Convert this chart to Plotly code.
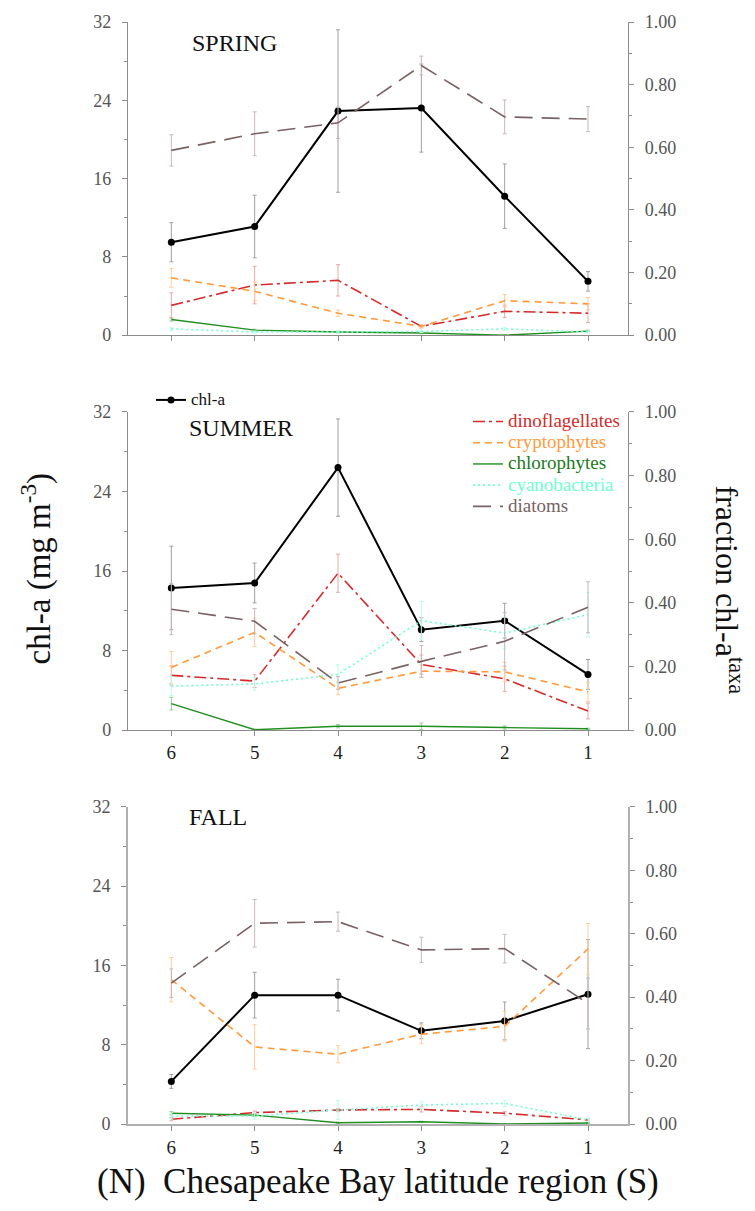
import plotly.graph_objects as go
from plotly.subplots import make_subplots

regions = [6, 5, 4, 3, 2, 1]
seasons = ["SPRING", "SUMMER", "FALL"]

# chl-a (mg m-3), left axis
spring_chl = [9.5, 11.1, 22.9, 23.2, 14.2, 5.5]
spring_chl_err = [2.0, 3.2, 8.3, 4.5, 3.3, 1.0]
summer_chl = [14.3, 14.8, 26.4, 10.1, 11.0, 5.6]
summer_chl_err = [4.2, 2.0, 4.9, 1.2, 1.75, 1.5]
fall_chl = [4.3, 13.0, 13.0, 9.4, 10.4, 13.1]
fall_chl_err = [0.7, 2.3, 1.6, 0.8, 1.9, 5.5]

# fraction chl-a of taxa, right axis
spring_dino = [0.095, 0.160, 0.175, 0.028, 0.076, 0.070]
spring_dino_err = [0.04, 0.06, 0.05, 0.005, 0.02, 0.03]
spring_crypto = [0.183, 0.140, 0.070, 0.028, 0.110, 0.100]
spring_crypto_err = [0.03, 0.03, 0.01, 0.005, 0.02, 0.02]
spring_chloro = [0.050, 0.016, 0.010, 0.007, 0.000, 0.013]
spring_chloro_err = [0.005, 0.003, 0.003, 0.003, 0.002, 0.003]
spring_cyano = [0.020, 0.010, 0.010, 0.012, 0.020, 0.010]
spring_cyano_err = [0.005, 0.003, 0.003, 0.004, 0.005, 0.003]
spring_diatom = [0.590, 0.643, 0.678, 0.861, 0.697, 0.690]
spring_diatom_err = [0.05, 0.07, 0.05, 0.03, 0.054, 0.04]

summer_dino = [0.172, 0.154, 0.493, 0.206, 0.161, 0.060]
summer_dino_err = [0.03, 0.02, 0.06, 0.03, 0.04, 0.025]
summer_crypto = [0.197, 0.307, 0.131, 0.185, 0.183, 0.120]
summer_crypto_err = [0.05, 0.045, 0.02, 0.02, 0.03, 0.03]
summer_chloro = [0.083, 0.001, 0.012, 0.012, 0.008, 0.004]
summer_chloro_err = [0.02, 0.002, 0.005, 0.01, 0.005, 0.002]
summer_cyano = [0.138, 0.145, 0.175, 0.344, 0.305, 0.363]
summer_cyano_err = [0.03, 0.02, 0.03, 0.06, 0.05, 0.07]
summer_diatom = [0.380, 0.342, 0.148, 0.216, 0.279, 0.386]
summer_diatom_err = [0.08, 0.04, 0.02, 0.05, 0.09, 0.08]

fall_dino = [0.015, 0.036, 0.044, 0.046, 0.034, 0.013]
fall_dino_err = [0.005, 0.005, 0.005, 0.008, 0.006, 0.003]
fall_crypto = [0.455, 0.243, 0.220, 0.283, 0.308, 0.552]
fall_crypto_err = [0.07, 0.07, 0.027, 0.03, 0.047, 0.08]
fall_chloro = [0.034, 0.028, 0.004, 0.007, 0.000, 0.003]
fall_chloro_err = [0.005, 0.005, 0.002, 0.002, 0.001, 0.002]
fall_cyano = [0.025, 0.025, 0.044, 0.060, 0.065, 0.013]
fall_cyano_err = [0.01, 0.01, 0.03, 0.01, 0.01, 0.005]
fall_diatom = [0.444, 0.633, 0.638, 0.549, 0.553, 0.380]
fall_diatom_err = [0.045, 0.075, 0.03, 0.04, 0.045, 0.08]

chl_data = [(spring_chl, spring_chl_err), (summer_chl, summer_chl_err), (fall_chl, fall_chl_err)]
taxa_data = [
    {"dino": (spring_dino, spring_dino_err), "crypto": (spring_crypto, spring_crypto_err),
     "chloro": (spring_chloro, spring_chloro_err), "cyano": (spring_cyano, spring_cyano_err),
     "diatom": (spring_diatom, spring_diatom_err)},
    {"dino": (summer_dino, summer_dino_err), "crypto": (summer_crypto, summer_crypto_err),
     "chloro": (summer_chloro, summer_chloro_err), "cyano": (summer_cyano, summer_cyano_err),
     "diatom": (summer_diatom, summer_diatom_err)},
    {"dino": (fall_dino, fall_dino_err), "crypto": (fall_crypto, fall_crypto_err),
     "chloro": (fall_chloro, fall_chloro_err), "cyano": (fall_cyano, fall_cyano_err),
     "diatom": (fall_diatom, fall_diatom_err)},
]

taxa_style = {
    "dino": dict(label="dinoflagellates", color="#d42a2a", text="#d42a2a", err="#e8a8a8", dash="12px,4px,3px,4px", width=1.6),
    "crypto": dict(label="cryptophytes", color="#ff9a3c", text="#ff9a3c", err="#ffcc99", dash="7px,5px", width=1.6),
    "chloro": dict(label="chlorophytes", color="#1f8f1f", text="#1a7a1a", err="#99cc99", dash="solid", width=1.4),
    "cyano": dict(label="cyanobacteria", color="#6fffd0", text="#6fffd0", err="#b8ffe8", dash="2px,3px", width=1.6),
    "diatom": dict(label="diatoms", color="#7a6262", text="#7a6262", err="#c8b8b8", dash="18px,9px", width=1.6),
}
order = ["dino", "crypto", "chloro", "cyano", "diatom"]

fig = make_subplots(rows=3, cols=1, specs=[[{"secondary_y": True}]] * 3)

for i in range(3):
    row = i + 1
    for key in order:
        st = taxa_style[key]
        vals, errs = taxa_data[i][key]
        fig.add_trace(go.Scatter(
            x=regions, y=vals, mode="lines",
            name=f"<span style='color:{st['text']};font-size:19px'>{st['label']}</span>",
            line=dict(color=st["color"], dash=st["dash"], width=st["width"]),
            error_y=dict(type="data", array=errs, color=st["err"], thickness=1, width=2),
            showlegend=(i == 1), legend="legend2",
        ), row=row, col=1, secondary_y=True)
    vals, errs = chl_data[i]
    fig.add_trace(go.Scatter(
        x=regions, y=vals, mode="lines+markers",
        name="<span style='font-size:17px'>chl-a</span>",
        line=dict(color="black", width=2),
        marker=dict(color="black", size=7),
        error_y=dict(type="data", array=errs, color="#a0a0a0", thickness=1, width=2),
        showlegend=(i == 1), legend="legend",
    ), row=row, col=1, secondary_y=False)

# layout in pixels of the plot block: x 128..628, y 19..1124
TOP, BOT = 19, 1124
H = BOT - TOP


def py(p):
    return (BOT - p) / H


def px(p):
    return (p - 128) / 500


domains = [[py(333), 1.0], [py(729), py(410)], [0.0, py(806)]]
axis_color = "#8c8c8c"
tickfont = dict(family="Liberation Serif", size=18, color="#555555")
for i in range(3):
    n = i + 1
    xa = "xaxis" if n == 1 else f"xaxis{n}"
    ya_left = "yaxis" if n == 1 else f"yaxis{2 * n - 1}"
    ya_right = f"yaxis{2 * n}"
    lw = 1.2 if n < 3 else 2
    lc = axis_color if n < 3 else "#b0b0b0"
    fig.layout[xa].update(
        domain=[0, 1],
        range=[6.52, 0.52], tickvals=regions, ticktext=[str(r) for r in regions],
        showticklabels=(n != 1), ticks="outside", ticklen=5, tickcolor=axis_color,
        showline=True, linecolor=lc, linewidth=lw, showgrid=False, zeroline=False,
        tickfont=dict(family="Liberation Serif", size=19, color="#222222"),
    )
    fig.layout[ya_left].update(
        domain=domains[i], range=[0, 32], tickvals=[0, 8, 16, 24, 32],
        ticks="outside", ticklen=5, tickcolor=axis_color, ticklabelstandoff=7,
        minor=dict(ticks="outside", dtick=4, ticklen=3, tickcolor=axis_color),
        showline=True, linecolor=lc, linewidth=lw, showgrid=False, zeroline=False,
        tickfont=tickfont,
    )
    fig.layout[ya_right].update(
        domain=domains[i], range=[0, 1], tickvals=[0, 0.2, 0.4, 0.6, 0.8, 1.0], tickformat=".2f",
        ticks="outside", ticklen=5, tickcolor=axis_color, ticklabelstandoff=7,
        minor=dict(ticks="outside", dtick=0.1, ticklen=3, tickcolor=axis_color),
        showline=True, linecolor=lc, linewidth=lw, showgrid=False, zeroline=False,
        tickfont=tickfont,
    )

annotations = []
label_pos = [(190, 40), (187, 426), (187, 816)]
for (lx, ly), s in zip(label_pos, seasons):
    annotations.append(dict(
        text=s, xref="paper", yref="paper", x=px(lx), y=py(ly),
        xanchor="left", yanchor="middle", showarrow=False,
        font=dict(family="Liberation Serif", size=24, color="#111111"),
    ))
annotations.append(dict(
    text="chl-a (mg m<sup>-3</sup>)", xref="paper", yref="paper",
    x=px(37), y=py(567), textangle=-90, showarrow=False,
    xanchor="center", yanchor="middle",
    font=dict(family="Liberation Serif", size=33, color="#111111"),
))
annotations.append(dict(
    text="fraction chl-a<sup>taxa</sup>", xref="paper", yref="paper",
    x=px(729), y=py(588), textangle=90, showarrow=False,
    xanchor="center", yanchor="middle",
    font=dict(family="Liberation Serif", size=32, color="#111111"),
))
annotations.append(dict(
    text="(N)&nbsp; Chesapeake Bay latitude region (S)", xref="paper", yref="paper",
    x=px(378), y=py(1182), showarrow=False,
    xanchor="center", yanchor="middle",
    font=dict(family="Liberation Serif", size=35, color="#111111"),
))

fig.update_layout(
    width=755, height=1211,
    margin=dict(l=128, r=127, t=TOP, b=1211 - BOT),
    paper_bgcolor="white", plot_bgcolor="white",
    annotations=annotations,
    font=dict(family="Liberation Serif"),
    legend=dict(x=px(151), y=py(398), xanchor="left", yanchor="middle",
                bgcolor="rgba(0,0,0,0)", font=dict(family="Liberation Serif", size=13, color="#111111")),
    legend2=dict(x=px(468), y=py(404), xanchor="left", yanchor="top",
                 bgcolor="rgba(0,0,0,0)", tracegroupgap=0,
                 font=dict(family="Liberation Serif", size=14)),
)

fig.write_html("out.html", config={"displayModeBar": False},
               post_script="document.body.style.margin='0px';")
